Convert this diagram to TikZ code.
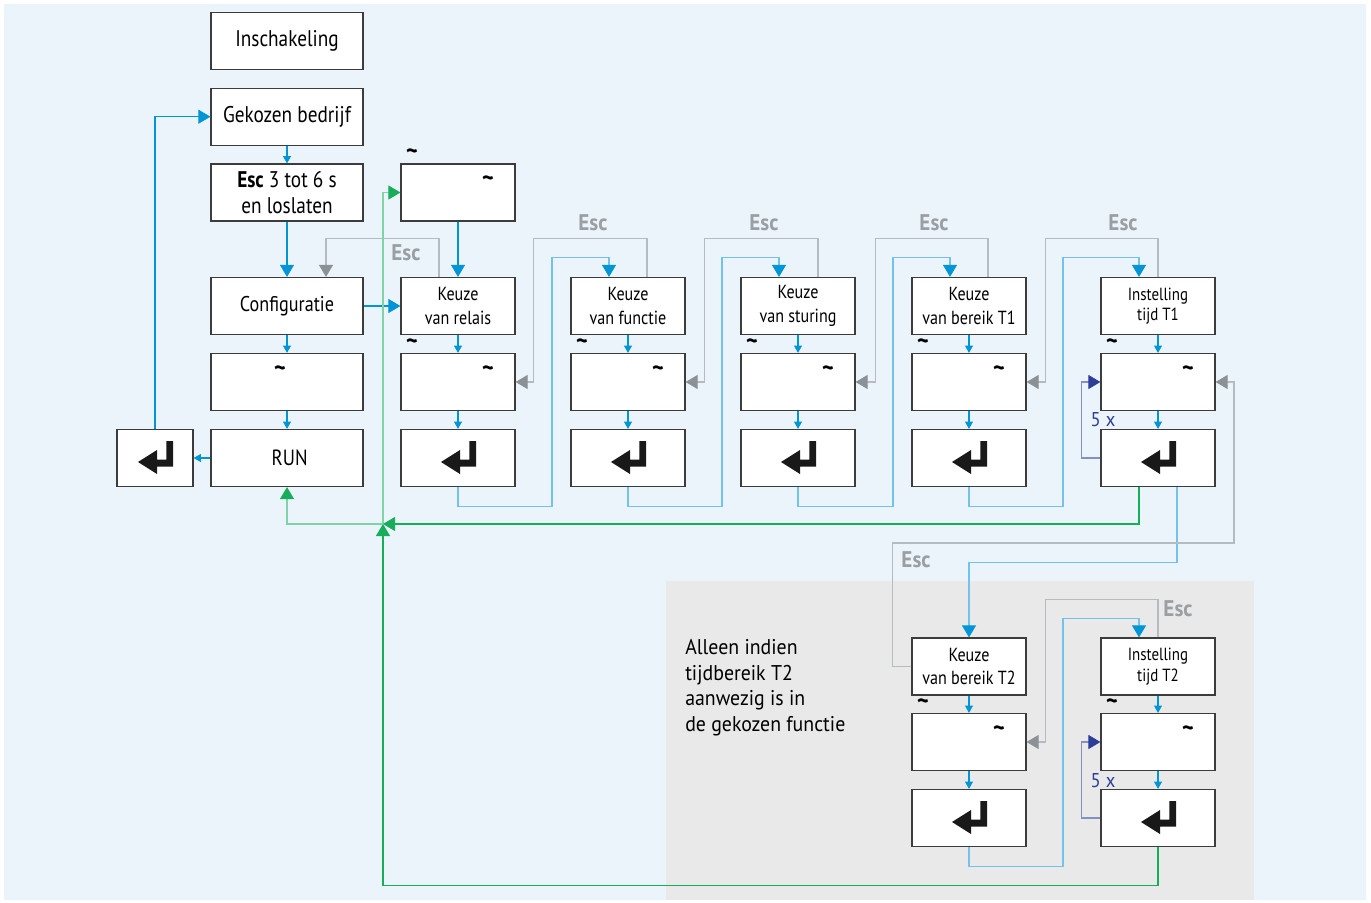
\documentclass[tikz,border=0pt]{standalone}
\usepackage{fontspec}
\setmainfont{PT Sans}[FakeStretch=0.85]
\newfontfamily\widefont{PT Sans}[FakeStretch=0.93]
\usetikzlibrary{arrows.meta,calc}
\definecolor{bg}{HTML}{ECF4FB}
\definecolor{graybg}{HTML}{E9E9E9}
\definecolor{cblue}{HTML}{0096D6}
\definecolor{lblue}{HTML}{72C2E9}
\definecolor{cgray}{HTML}{8C9196}
\definecolor{lgray}{HTML}{B5BBC0}
\definecolor{escgray}{HTML}{9A9FA3}
\definecolor{cgreen}{HTML}{17AE5B}
\definecolor{lgreen}{HTML}{7FD3A6}
\definecolor{dblue}{HTML}{2C3E98}
\definecolor{ldblue}{HTML}{8390C8}
\definecolor{bord}{HTML}{3C3C3C}
\begin{document}
\begin{tikzpicture}[x=0.75pt,y=-0.75pt,
  box/.style={draw=bord,line width=0.9pt,fill=white,inner sep=0pt,minimum width=85.5pt,minimum height=42.75pt,align=center},
  wbox/.style={box,minimum width=114pt},
  mfont/.style={font=\fontsize{17}{19.2}\selectfont},
  kfont/.style={font=\fontsize{14.2}{17.5}\selectfont},
  ifont/.style={font=\fontsize{13.2}{15.5}\selectfont},
  tnode/.style={inner sep=0pt,font=\widefont\bfseries\fontsize{18}{18}\selectfont},
  esclab/.style={inner sep=0pt,text=escgray,font=\widefont\bfseries\fontsize{17}{17}\selectfont},
  sarrow/.style={draw=cblue,line width=0.8pt,-{Triangle[length=5.5pt,width=6pt]}},
  barrow/.style={draw=cblue,line width=0.8pt,-{Triangle[length=9pt,width=10.5pt]}},
  bline/.style={draw=lblue,line width=0.8pt,-{Triangle[length=9pt,width=10.5pt,color=cblue]}},
  garrow/.style={draw=lgray,line width=0.8pt,-{Triangle[length=9pt,width=10.5pt,color=cgray]}},
  grarrow/.style={draw=cgreen,line width=0.8pt,-{Triangle[length=9pt,width=10.5pt,color=cgreen]}},
  lgrarrow/.style={draw=lgreen,line width=0.8pt,-{Triangle[length=9pt,width=10.5pt,color=cgreen]}},
  dbarrow/.style={draw=ldblue,line width=0.8pt,-{Triangle[length=9pt,width=10.5pt,color=dblue]}},
  enterglyph/.pic={\fill[black!90] (18,-17) -- (18,8.5) -- (2,8.5) -- (2,16) -- (-17,4) -- (2,-8) -- (2,1.5) -- (11.3,1.5) -- (11.3,-17) -- cycle;}
]
\useasboundingbox (0,0) rectangle (1371,903);
\fill[white] (0,0) rectangle (1371,903);
\fill[bg] (4,4) rectangle (1366,900);
\fill[graybg] (666,581) rectangle (1254,900);

% left column
\node[wbox,mfont] (insch) at (287,40.8) {Inschakeling};
\node[wbox,mfont] (gek) at (287,116.7) {Gekozen bedrijf};
\node[wbox,mfont] (escb) at (287,192.5) {\textbf{Esc} 3 tot 6 s\\en loslaten};
\node[wbox,font=\fontsize{16}{19}\selectfont] (conf) at (287,306) {Configuratie};
\node[wbox] (tl) at (287,382) {};
\node[wbox,font=\fontsize{16.5}{19}\selectfont] (run) at (287,458) {\hspace{4pt}RUN};
\node[box,minimum width=57pt] (entl) at (155,458) {};
\pic at (entl) {enterglyph};
\node[tnode] (tlt) at (280,371) {\textasciitilde};

% top box
\node[box] (top) at (458,192.5) {};
\node[tnode] (topt1) at (412,154) {\textasciitilde};
\node[tnode] (topt2) at (488,181) {\textasciitilde};

% columns
\node[box,kfont] (c1a) at (458,306) {Keuze\\van relais};
\node[box,kfont] (c2a) at (628,306) {Keuze\\van functie};
\node[box,kfont] (c3a) at (798,306) {Keuze\\van sturing};
\node[box,kfont] (c4a) at (969,306) {Keuze\\van bereik T1};
\node[box,ifont] (c5a) at (1158,306) {Instelling\\tijd T1};
\foreach \n/\x in {c1/458,c2/628,c3/798,c4/969,c5/1158}{
  \node[box] (\n b) at (\x,382) {};
  \node[box] (\n c) at (\x,458) {};
  \pic at (\n c) {enterglyph};
  \node[tnode] (\n t1) at (\x-46,344) {\textasciitilde};
  \node[tnode] (\n t2) at (\x+30,371) {\textasciitilde};
  \draw[sarrow] (\n a) -- (\n b);
  \draw[sarrow] (\n b) -- (\n c);
}
% bottom columns
\node[box,kfont] (d4a) at (969,666.5) {Keuze\\van bereik T2};
\node[box,ifont] (d5a) at (1158,666.5) {Instelling\\tijd T2};
\foreach \n/\x in {d4/969,d5/1158}{
  \node[box] (\n b) at (\x,742) {};
  \node[box] (\n c) at (\x,818) {};
  \pic at (\n c) {enterglyph};
  \node[tnode] (\n t1) at (\x-46,704) {\textasciitilde};
  \node[tnode] (\n t2) at (\x+30,731) {\textasciitilde};
  \draw[sarrow] (\n a) -- (\n b);
  \draw[sarrow] (\n b) -- (\n c);
}

% left column arrows
\draw[sarrow] (gek) -- (escb);
\draw[barrow] (escb) -- (conf);
\draw[sarrow] (conf) -- (tl);
\draw[sarrow] (tl) -- (run);
\draw[sarrow] (run) -- (entl);
\draw[barrow] (entl.north) |- (gek.west);
\draw[barrow] (conf) -- (c1a);
\draw[barrow] (top) -- (c1a);

% Esc back arrows
\draw[garrow] ($(c1a.north)+(-19,0)$) -- ++(0,-38) -| ($(conf.north)+(39,0)$);
\draw[garrow] ($(c2a.north)+(19,0)$) -- ++(0,-38) -| ($(c1b.east)+(18,0)$) -- (c1b.east);
\draw[garrow] ($(c3a.north)+(20,0)$) -- ++(0,-38) -| ($(c2b.east)+(19,0)$) -- (c2b.east);
\draw[garrow] ($(c4a.north)+(19,0)$) -- ++(0,-38) -| ($(c3b.east)+(20,0)$) -- (c3b.east);
\draw[garrow] (c5a.north) -- ++(0,-38) -| ($(c4b.east)+(19,0)$) -- (c4b.east);
\node[esclab] (esc1) at (406,253) {Esc};
\node[esclab] (esc2) at (593,223) {Esc};
\node[esclab] (esc3) at (764,223) {Esc};
\node[esclab] (esc4) at (934,223) {Esc};
\node[esclab] (esc5) at (1123,223) {Esc};

% forward loops
\draw[bline] (c1c.south) -- ++(0,19) -- ++(94,0) |- ($(c2a.north)+(-19,-19)$) -- ($(c2a.north)+(-19,0)$);
\draw[bline] (c2c.south) -- ++(0,19) -- ++(94,0) |- ($(c3a.north)+(-19,-19)$) -- ($(c3a.north)+(-19,0)$);
\draw[bline] (c3c.south) -- ++(0,19) -- ++(95,0) |- ($(c4a.north)+(-19,-19)$) -- ($(c4a.north)+(-19,0)$);
\draw[bline] (c4c.south) -- ++(0,19) -- ++(94,0) |- ($(c5a.north)+(-19,-19)$) -- ($(c5a.north)+(-19,0)$);

% 5x loops
\draw[dbarrow] (c5c.west) -- ++(-19,0) |- (c5b.west);
\draw[dbarrow] (d5c.west) -- ++(-19,0) |- (d5b.west);
\node[inner sep=0pt,text=dblue,font=\widefont\fontsize{15}{15}\selectfont] (fx1) at (1103,420) {5 x};
\node[inner sep=0pt,text=dblue,font=\widefont\fontsize{15}{15}\selectfont] (fx2) at (1103,781) {5 x};

% to T2 section
\draw[bline] ($(c5c.south)+(19,0)$) -- ++(0,75) -| (d4a.north);
\coordinate (gR) at (1234,543);
\draw[garrow] (d4a.west) -- ++(-19,0) |- (gR) |- (c5b.east);
\node[esclab] (esc6) at (916,560) {Esc};
\draw[garrow] (d5a.north) -- ++(0,-38) -| ($(d4b.east)+(19,0)$) -- (d4b.east);
\node[esclab] (esc7) at (1178,609) {Esc};
\draw[bline] (d4c.south) -- ++(0,19) -- ++(94,0) |- ($(d5a.north)+(-19,-19)$) -- ($(d5a.north)+(-19,0)$);

% green returns
\coordinate (J) at (383,524);
\draw[lgrarrow] (J) -| (run.south);
\draw[lgrarrow] (J) |- (top.west);
\draw[grarrow] ($(c5c.south)+(-19,0)$) |- (J);
\draw[grarrow] (d5c.south) -- ++(0,38) -| (J);

% note
\node[anchor=north west,align=left,inner sep=0pt,font=\widefont\fontsize{16}{19.3}\selectfont] (note) at (685,639) {Alleen indien\\tijdbereik T2\\aanwezig is in\\de gekozen functie};
\end{tikzpicture}
\end{document}
